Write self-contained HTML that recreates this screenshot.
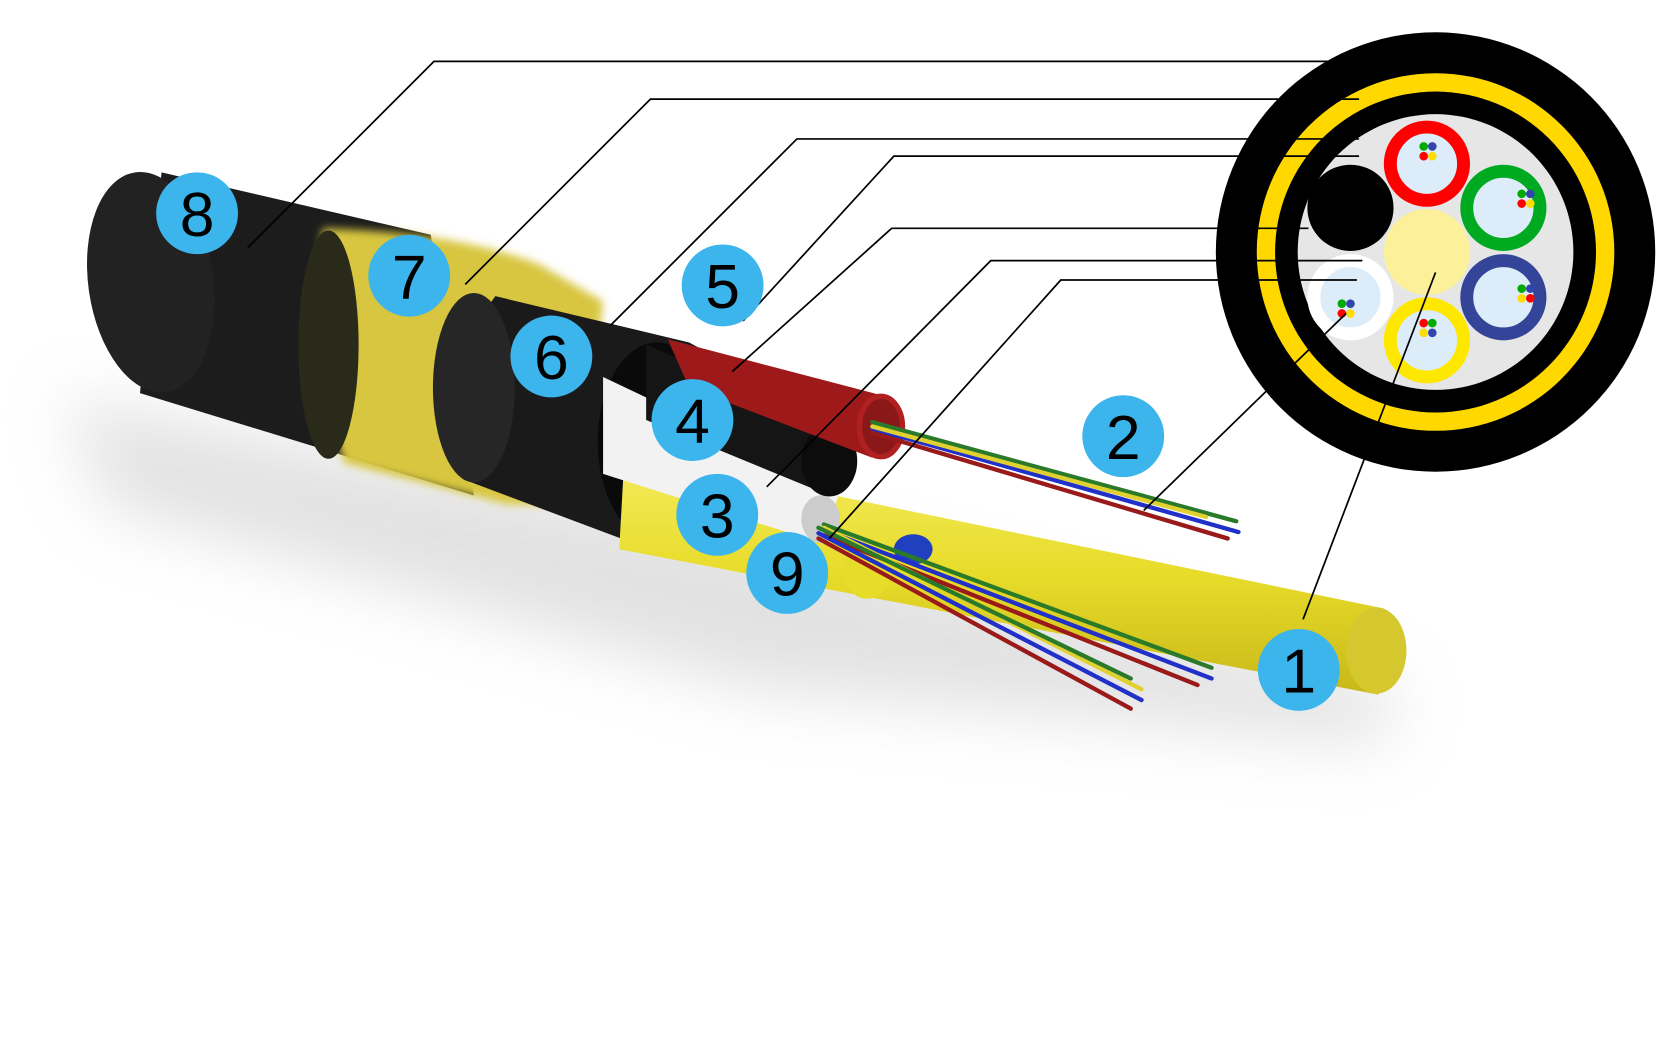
<!DOCTYPE html>
<html><head><meta charset="utf-8"><style>html,body{margin:0;padding:0;background:#fff;width:1680px;height:1063px;overflow:hidden}svg{display:block}</style></head><body>
<svg width="1680" height="1063" viewBox="0 0 1560 987" preserveAspectRatio="none" xmlns="http://www.w3.org/2000/svg">
<defs>
<filter id="b" x="-50%" y="-50%" width="200%" height="200%"><feGaussianBlur stdDeviation="30"/></filter>
<filter id="b2"><feGaussianBlur stdDeviation="4"/></filter>
<linearGradient id="yr" x1="0" y1="0" x2="0" y2="1"><stop offset="0" stop-color="#f4ec60"/><stop offset="0.5" stop-color="#e8dc2a"/><stop offset="1" stop-color="#c8b818"/></linearGradient>
</defs>
<path d="M60,370 L700,490 L1300,640 L1280,690 L700,640 L100,470 Z" fill="#cfcfcf" filter="url(#b)" opacity="0.6"/>
<!-- outer jacket -->
<path d="M150,160 L400,218 L440,460 L130,365 Z" fill="#1c1c1c"/>
<ellipse cx="140" cy="262" rx="58" ry="103" transform="rotate(-8 140 262)" fill="#222"/>
<!-- aramid -->
<path d="M300,212 Q420,215 500,245 L560,280 L540,470 L470,468 L320,430 Q280,330 300,212 Z" fill="#d8c640" filter="url(#b2)"/>
<ellipse cx="305" cy="320" rx="28" ry="106" fill="#2a2a1a"/>
<!-- inner jacket -->
<path d="M460,275 L640,318 L690,345 L650,500 L590,505 L430,445 Q395,360 460,275 Z" fill="#1a1a1a"/>
<ellipse cx="440" cy="360" rx="38" ry="88" fill="#262626"/>
<ellipse cx="610" cy="410" rx="55" ry="92" fill="#0a0a0a"/>
<!-- yellow central rod -->
<path d="M580,420 L1285,565 L1280,645 L575,510 Z" fill="url(#yr)"/>
<ellipse cx="1278" cy="604" rx="28" ry="40" fill="#d4c82e"/>
<!-- white tube -->
<path d="M560,350 L780,455 L765,505 L560,440 Z" fill="#f2f2f2"/>
<ellipse cx="762" cy="482" rx="18" ry="22" fill="#ccc"/>
<!-- black tube -->
<path d="M600,320 L775,395 L770,460 L600,390 Z" fill="#151515"/>
<ellipse cx="770" cy="428" rx="26" ry="33" fill="#0c0c0c"/>
<!-- red tube -->
<path d="M620,315 L830,370 L810,425 L640,360 Z" fill="#9e1a1a"/>
<ellipse cx="818" cy="396" rx="20" ry="28" fill="#8a1818" stroke="#b02020" stroke-width="5"/>
<ellipse cx="805" cy="530" rx="22" ry="26" fill="#e6dc2a"/>
<ellipse cx="848" cy="510" rx="18" ry="14" fill="#2040c0"/>
<g stroke-width="4" stroke-linecap="round" fill="none">
<path d="M810,392 L1148,484" stroke="#2a7a2a"/><path d="M810,398 L1150,494" stroke="#2030c8"/><path d="M810,402 L1140,500" stroke="#9a1a1a"/><path d="M810,396 L1120,480" stroke="#e0d030"/>
<path d="M765,487 L1125,620" stroke="#2a7a2a"/><path d="M765,492 L1125,630" stroke="#2030c8"/><path d="M765,497 L1112,636" stroke="#9a1a1a"/><path d="M765,490 L1060,640" stroke="#e0d030"/>
<path d="M760,495 L1060,650" stroke="#2030c8"/><path d="M760,500 L1050,658" stroke="#9a1a1a"/><path d="M760,490 L1050,630" stroke="#2a7a2a"/>
</g>
<!-- cross section -->
<circle cx="1333" cy="234" r="204" fill="#000"/>
<circle cx="1333" cy="234" r="166" fill="#ffd800"/>
<circle cx="1333" cy="234" r="149" fill="#000"/>
<circle cx="1333" cy="234" r="128" fill="#e6e6e6"/>
<circle cx="1325" cy="234" r="40" fill="#fdf09a"/>
<circle cx="1254" cy="193" r="40" fill="#000"/>
<g stroke-width="12">
<circle cx="1325" cy="152" r="34" fill="#dcecf8" stroke="#f00"/>
<circle cx="1396" cy="193" r="34" fill="#dcecf8" stroke="#00aa20"/>
<circle cx="1396" cy="276" r="34" fill="#dcecf8" stroke="#334499"/>
<circle cx="1325" cy="316" r="34" fill="#dcecf8" stroke="#ffe800"/>
<circle cx="1254" cy="276" r="34" fill="#dcecf8" stroke="#fff"/>
</g>
<g>
<circle cx="1322" cy="136" r="4" fill="#0a0"/><circle cx="1330" cy="136" r="4" fill="#34a"/><circle cx="1322" cy="145" r="4" fill="#f00"/><circle cx="1330" cy="145" r="4" fill="#fd0"/>
<circle cx="1413" cy="180" r="4" fill="#0a0"/><circle cx="1421" cy="180" r="4" fill="#34a"/><circle cx="1413" cy="189" r="4" fill="#f00"/><circle cx="1421" cy="189" r="4" fill="#fd0"/>
<circle cx="1413" cy="268" r="4" fill="#0a0"/><circle cx="1421" cy="268" r="4" fill="#34a"/><circle cx="1413" cy="277" r="4" fill="#fd0"/><circle cx="1421" cy="277" r="4" fill="#f00"/>
<circle cx="1322" cy="300" r="4" fill="#f00"/><circle cx="1330" cy="300" r="4" fill="#0a0"/><circle cx="1322" cy="309" r="4" fill="#fd0"/><circle cx="1330" cy="309" r="4" fill="#34a"/>
<circle cx="1246" cy="282" r="4" fill="#0a0"/><circle cx="1254" cy="282" r="4" fill="#34a"/><circle cx="1246" cy="291" r="4" fill="#f00"/><circle cx="1254" cy="291" r="4" fill="#fd0"/>
</g>
<g stroke="#000" stroke-width="1.6" fill="none">
<polyline points="230,230 403,57 1233,57"/>
<polyline points="432,264 604,92 1262,92"/>
<polyline points="567,302 740,129 1262,129"/>
<polyline points="690,298 830,145 1262,145"/>
<polyline points="680,345 828,212 1215,212"/>
<polyline points="712,452 920,242 1265,242"/>
<polyline points="770,500 985,260 1260,260"/>
<polyline points="1062,474 1250,291"/>
<polyline points="1210,575 1333,253"/>
</g>
<g font-family="Liberation Sans, sans-serif" font-size="58" text-anchor="middle" fill="#000">
<circle cx="183" cy="198" r="38" fill="#3cb4ec"/><text x="183" y="219">8</text>
<circle cx="380" cy="256" r="38" fill="#3cb4ec"/><text x="380" y="277">7</text>
<circle cx="512" cy="331" r="38" fill="#3cb4ec"/><text x="512" y="352">6</text>
<circle cx="671" cy="265" r="38" fill="#3cb4ec"/><text x="671" y="286">5</text>
<circle cx="643" cy="390" r="38" fill="#3cb4ec"/><text x="643" y="411">4</text>
<circle cx="666" cy="478" r="38" fill="#3cb4ec"/><text x="666" y="499">3</text>
<circle cx="731" cy="532" r="38" fill="#3cb4ec"/><text x="731" y="553">9</text>
<circle cx="1043" cy="405" r="38" fill="#3cb4ec"/><text x="1043" y="426">2</text>
<circle cx="1206" cy="622" r="38" fill="#3cb4ec"/><text x="1206" y="643">1</text>
</g>
</svg>
</body></html>
